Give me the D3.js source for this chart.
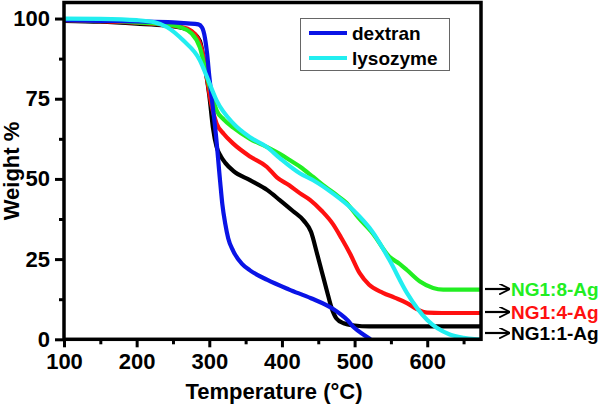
<!DOCTYPE html>
<html>
<head>
<meta charset="utf-8">
<script src="https://cdn.jsdelivr.net/npm/d3@7"></script>
<style>
  body { margin: 0; background: #fff; }
  svg { display: block; font-family: Arial, "Liberation Sans", sans-serif; font-weight: bold; }
</style>
</head>
<body>
<svg></svg>
<script>
var width = 600;
var height = 406;
var margin = { top: 2.5, right: 119, bottom: 66.7, left: 64 };

// TGA curves
var dextranT = [100, 150, 200, 250, 270, 285, 290, 294, 297, 300, 304, 309, 315, 318, 322, 326, 333, 345, 356, 380, 410, 440, 470, 490, 500, 510, 522];
var dextranW = [99.5, 99.3, 99.1, 98.8, 98.5, 98.2, 97.2, 94, 89, 82, 74, 64, 49, 42, 36, 31.5, 27.5, 23.5, 21.5, 18.5, 15.5, 12.8, 9.5, 6, 3.5, 1.8, 0];

var lysozymeT = [100, 150, 200, 225, 242, 264, 287, 297, 310, 333, 356, 379, 397, 425, 443, 470, 498, 525, 548, 572, 600, 631, 650, 665, 674];
var lysozymeW = [100, 99.9, 99.5, 98.8, 97.3, 93.2, 87, 81.7, 74.5, 67.3, 63, 60, 56.5, 51.7, 49.6, 45.5, 40.3, 33.4, 24.7, 14.5, 6, 1.5, 0.5, 0.1, 0];

var ng11T = [100, 150, 200, 240, 260, 275, 287, 294, 300, 305, 310, 316, 322, 333, 356, 380, 397, 415, 430, 440, 448, 455, 462, 468, 475, 485, 500, 520, 600, 674];
var ng11W = [99.3, 99.0, 98.4, 97.8, 97.2, 96, 93, 85, 76, 66, 60, 57, 55, 52.5, 49.6, 46.5, 43.4, 40, 37, 33.5, 27, 21, 15, 10, 6.5, 5, 4.3, 4, 4, 4];

var ng14T = [100, 150, 200, 240, 260, 275, 285, 292, 297, 303, 310, 320, 333, 356, 379, 393, 410, 425, 439, 455, 470, 482, 494, 507, 520, 539, 555, 572, 585, 600, 620, 674];
var ng14W = [99.5, 99.2, 98.7, 98, 97.4, 96.2, 93.5, 88, 81, 73, 67.3, 64, 61, 57, 53.8, 50.5, 48, 45.5, 43.4, 40, 36, 31.5, 26.6, 20.6, 17, 14.5, 13, 11.3, 9.5, 8.3, 8.2, 8.2];

var ng18T = [100, 150, 200, 240, 260, 275, 287, 297, 305, 310, 320, 333, 356, 379, 397, 410, 425, 443, 460, 475, 489, 505, 525, 548, 562, 572, 590, 608, 622, 674];
var ng18W = [99.6, 99.4, 98.8, 98.2, 97.3, 95.5, 91, 81.7, 75, 71.4, 68.5, 66, 62.5, 60, 57.8, 56, 53.8, 50.6, 47.5, 45, 42.5, 38, 33, 25.7, 23.5, 21.6, 18, 16, 15.5, 15.5];

var xTicks = [100, 200, 300, 400, 500, 600];
var yTicks = [0, 25, 50, 75, 100];
var legendNames = ["dextran", "lysozyme"];
var endLabels = ["NG1:8-Ag", "NG1:4-Ag", "NG1:1-Ag"];

var series = [
  { t: ng11T, w: ng11W, color: "#000000" },
  { t: ng14T, w: ng14W, color: "#ff1010" },
  { t: ng18T, w: ng18W, color: "#22ee22" },
  { t: dextranT, w: dextranW, color: "#0a14e6" },
  { t: lysozymeT, w: lysozymeW, color: "#22eef0" }
];

var svg = d3.select("svg")
  .attr("width", width)
  .attr("height", height);

var x = d3.scaleLinear()
  .domain([100, 674])
  .range([margin.left, width - margin.right]);

var y = d3.scaleLinear()
  .domain([0, 105])
  .range([height - margin.bottom, margin.top]);

svg.append("clipPath")
    .attr("id", "plot")
  .append("rect")
    .attr("x", x.range()[0])
    .attr("y", y.range()[1])
    .attr("width", x.range()[1] - x.range()[0])
    .attr("height", y.range()[0] - y.range()[1]);

var line = d3.line()
  .x(d => x(d[0]))
  .y(d => y(d[1]))
  .curve(d3.curveMonotoneX);

svg.append("g")
    .attr("clip-path", "url(#plot)")
  .selectAll("path")
  .data(series)
  .enter()
  .append("path")
    .attr("d", s => line(d3.zip(s.t, s.w)))
    .attr("fill", "none")
    .attr("stroke", s => s.color)
    .attr("stroke-width", 4.2)
    .attr("stroke-linejoin", "round");

// axes, major and minor ticks pointing out
var xMinor = d3.range(150, 674, 100);
var yMinor = d3.range(12.5, 105, 25);

var gx = svg.append("g")
  .attr("transform", "translate(0," + y(0) + ")");
gx.call(d3.axisBottom(x).tickValues(xMinor).tickSize(5).tickFormat(""));
gx.append("g").call(d3.axisBottom(x).tickValues(xTicks).tickSize(8).tickPadding(6));

var gy = svg.append("g")
  .attr("transform", "translate(" + x(100) + ",0)");
gy.call(d3.axisLeft(y).tickValues(yMinor).tickSize(5).tickFormat(""));
gy.append("g").call(d3.axisLeft(y).tickValues(yTicks).tickSize(9).tickPadding(5));

svg.selectAll(".domain").remove();
svg.selectAll(".tick line")
  .attr("stroke", "#000")
  .attr("stroke-width", 3);
svg.selectAll(".tick text")
  .attr("fill", "#000")
  .style("font-size", "22px")
  .style("font-family", "Arial, 'Liberation Sans', sans-serif")
  .style("font-weight", "bold");

// frame
svg.append("rect")
  .attr("x", x.range()[0])
  .attr("y", y.range()[1])
  .attr("width", x.range()[1] - x.range()[0])
  .attr("height", y.range()[0] - y.range()[1])
  .attr("fill", "none")
  .attr("stroke", "#000")
  .attr("stroke-width", 3.5);

svg.append("text")
  .attr("x", 274)
  .attr("y", 399)
  .attr("text-anchor", "middle")
  .style("font-size", "22px")
  .text("Temperature (\u00b0C)");

svg.append("text")
  .attr("transform", "translate(19," + 171 + ") rotate(-90)")
  .attr("text-anchor", "middle")
  .style("font-size", "22px")
  .text("Weight %");

// legend
var legend = svg.append("g");
legend.append("rect")
  .attr("x", 300.5)
  .attr("y", 18.5)
  .attr("width", 149)
  .attr("height", 52)
  .attr("fill", "#fff")
  .attr("stroke", "#666")
  .attr("stroke-width", 1);

var legendColors = [series[3].color, series[4].color];
legendNames.forEach(function(name, i) {
  var ly = 33 + i * 25;
  legend.append("line")
    .attr("x1", 309).attr("x2", 347)
    .attr("y1", ly).attr("y2", ly)
    .attr("stroke", legendColors[i])
    .attr("stroke-width", 4);
  legend.append("text")
    .attr("x", 352)
    .attr("y", ly + 7)
    .style("font-size", "19px")
    .text(name);
});

// arrows to the end values
svg.append("defs").append("marker")
    .attr("id", "arrow")
    .attr("viewBox", "0 0 10 10")
    .attr("refX", 9)
    .attr("refY", 5)
    .attr("markerWidth", 5)
    .attr("markerHeight", 5)
    .attr("markerUnits", "strokeWidth")
    .attr("orient", "auto")
  .append("path")
    .attr("d", "M0,0 L10,5 L0,10")
    .attr("fill", "none")
    .attr("stroke", "#000")
    .attr("stroke-width", 1.6);

var endSeries = [series[2], series[1], series[0]];
var endY = [289, 312, 333];
endLabels.forEach(function(label, i) {
  var s = endSeries[i];
  svg.append("line")
    .attr("x1", 485).attr("x2", 509)
    .attr("y1", endY[i]).attr("y2", endY[i])
    .attr("stroke", "#000")
    .attr("stroke-width", 2.2)
    .attr("marker-end", "url(#arrow)");
  svg.append("text")
    .attr("x", 511)
    .attr("y", endY[i] + 7)
    .attr("fill", s.color)
    .style("font-size", "19px")
    .text(label);
});
</script>
</body>
</html>
